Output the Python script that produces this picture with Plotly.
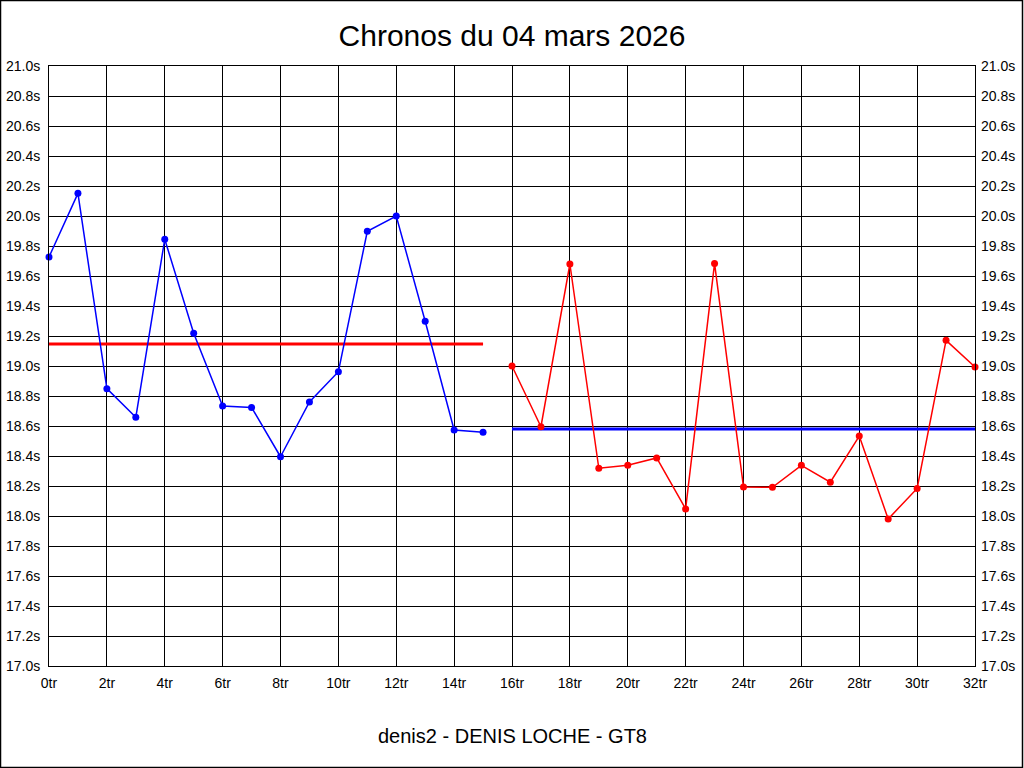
import plotly.graph_objects as go

# ---- data ----
laps_blue = list(range(0, 16))
times_blue = [19.727, 20.151, 18.849, 18.658, 19.845, 19.218, 18.733, 18.724,
              18.395, 18.760, 18.962, 19.898, 20.000, 19.298, 18.573, 18.558]

laps_red = list(range(16, 33))
times_red = [19.000, 18.595, 19.680, 18.318, 18.338, 18.387, 18.047, 19.684,
             18.193, 18.191, 18.338, 18.225, 18.533, 17.980, 18.184, 19.171, 18.993]

avg_line_blue_part = 19.147   # red horizontal line over laps 0..15
avg_line_red_part = 18.580    # blue horizontal line over laps 16..32

title_text = "Chronos du 04 mars 2026"
subtitle_text = "denis2 - DENIS LOCHE - GT8"

BLUE = "#0000FF"
RED = "#FF0000"
FONT = "Liberation Sans, Arial, sans-serif"

W, H = 1024, 768
ML, MR, MT, MB = 49, 49, 66, 102
PW, PH = W - ML - MR, H - MT - MB

fig = go.Figure()

fig.add_trace(go.Scatter(
    x=[laps_blue[0], laps_blue[-1]], y=[avg_line_blue_part] * 2,
    mode="lines", line=dict(color=RED, width=3), showlegend=False, hoverinfo="skip"))
fig.add_trace(go.Scatter(
    x=[laps_red[0], laps_red[-1]], y=[avg_line_red_part] * 2,
    mode="lines", line=dict(color=BLUE, width=3), showlegend=False, hoverinfo="skip"))

fig.add_trace(go.Scatter(
    x=laps_blue, y=times_blue, mode="lines+markers",
    line=dict(color=BLUE, width=1.5), marker=dict(color=BLUE, size=7),
    showlegend=False, cliponaxis=False))
fig.add_trace(go.Scatter(
    x=laps_red, y=times_red, mode="lines+markers",
    line=dict(color=RED, width=1.5), marker=dict(color=RED, size=7),
    showlegend=False, cliponaxis=False, yaxis="y2"))

axis_common = dict(
    showgrid=True, gridcolor="black", gridwidth=1,
    showline=True, linecolor="black", linewidth=1, automargin=False,
    zeroline=False, ticks="", tickfont=dict(family=FONT, size=14, color="black"),
)

fig.update_layout(
    width=W, height=H,
    margin=dict(l=ML, r=MR, t=MT, b=MB, pad=0, autoexpand=False),
    paper_bgcolor="white", plot_bgcolor="white",
    font=dict(family=FONT, color="black"),
    title=dict(text=title_text, x=0.5, xanchor="center", xref="paper",
               y=1 - 35 / H, yref="container", yanchor="middle",
               font=dict(family=FONT, size=30, color="black")),
    xaxis=dict(range=[0, 32], dtick=2, tick0=0, ticksuffix="tr", mirror=True,
               ticklabelstandoff=4, **axis_common),
    yaxis=dict(range=[17.0, 21.0], dtick=0.2, tick0=17.0, tickformat=".1f",
               ticksuffix="s", mirror=True, ticklabelstandoff=5, **axis_common),
    yaxis2=dict(range=[17.0, 21.0], dtick=0.2, tick0=17.0, tickformat=".1f",
                ticksuffix="s", overlaying="y", side="right", showgrid=False,
                showline=False, zeroline=False, ticks="", ticklabelstandoff=5,
                automargin=False,
                tickfont=dict(family=FONT, size=14, color="black")),
    annotations=[dict(text=subtitle_text, x=0.5, xref="paper", xanchor="center",
                      y=(H - MB - 736) / PH, yref="paper",
                      yanchor="middle", showarrow=False,
                      font=dict(family=FONT, size=20, color="black"))],
    shapes=[dict(type="rect", xref="paper", yref="paper",
                 x0=(0.5 - ML) / PW, x1=(W - 1.5 - ML) / PW,
                 y0=-(MB - 0.5) / PH, y1=(PH + MT - 0.5) / PH,
                 line=dict(color="black", width=1.5), fillcolor="rgba(0,0,0,0)")],
)

fig.write_html("out.html", config={"displayModeBar": False},
               post_script="document.body.style.margin='0';document.body.style.overflow='hidden';")
